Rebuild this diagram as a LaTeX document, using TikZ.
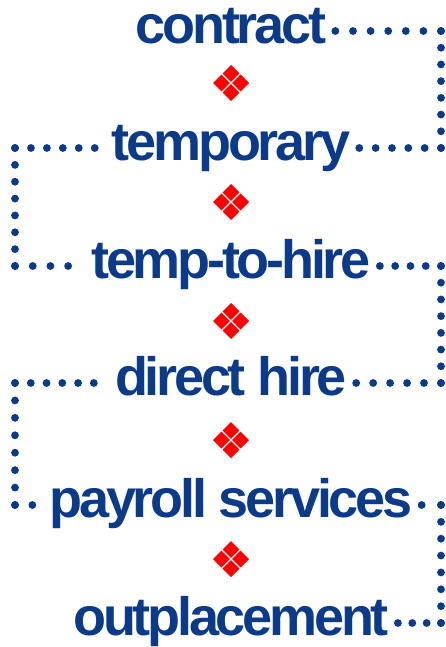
\documentclass[tikz,border=0pt]{standalone}
\usepackage{fontspec}
\usetikzlibrary{calc}
\newfontfamily\labelfont[LetterSpace=-6]{Liberation Sans}
\definecolor{tblue}{HTML}{0B3A8A}
\definecolor{ored}{HTML}{FF0000}
\newcommand\dotseg[2]{%
  \path let \p1=(#1), \p2=(#2) in \pgfextra{%
    \pgfmathsetmacro\segsp{veclen(\x1-\x2,\y1-\y2)/max(1,round(veclen(\x1-\x2,\y1-\y2)/16.3))}%
    \global\let\segsp\segsp};
  \draw[dotted line=\segsp pt] (#1) -- (#2);}
\begin{document}
\begin{tikzpicture}[x=1pt,y=-1pt,
  lbl/.style={font=\labelfont\bfseries\fontsize{54}{54}\selectfont, text=tblue,
    inner xsep=9pt, inner ysep=0pt, text height=25pt, text depth=0pt},
  dotted line/.style={draw=tblue, line width=7.8pt, line cap=round, dash pattern=on 0pt off #1},
  dotted line/.default=16.3pt,
  orn/.style={minimum size=38pt, inner sep=0pt}]
\useasboundingbox (0,0) rectangle (446,647);
\node[lbl] (t1) at (231,31) {contract};
\node[lbl] (t2) at (231,148) {temporary};
\node[lbl] (t3) at (231,266) {temp-to-hire};
\node[lbl] (t4) at (231,383) {direct hire};
\node[lbl] (t5) at (231,505) {payroll services};
\node[lbl] (t6) at (231,623) {outplacement};
\node[orn] (d1) at (231,83) {};
\node[orn] (d2) at (231,202) {};
\node[orn] (d3) at (231,321) {};
\node[orn] (d4) at (231,440) {};
\node[orn] (d5) at (231,559) {};
\foreach \d in {d1,d2,d3,d4,d5}{
  \fill[ored] (\d.center) ++(1.2,0) -- ++(8.4,8.4) -- ++(8.4,-8.4) -- ++(-8.4,-8.4) -- cycle;
  \fill[ored] (\d.center) ++(-1.2,0) -- ++(-8.4,8.4) -- ++(-8.4,-8.4) -- ++(8.4,-8.4) -- cycle;
  \fill[ored] (\d.center) ++(0,1.2) -- ++(8.4,8.4) -- ++(-8.4,8.4) -- ++(-8.4,-8.4) -- cycle;
  \fill[ored] (\d.center) ++(0,-1.2) -- ++(8.4,-8.4) -- ++(-8.4,-8.4) -- ++(-8.4,8.4) -- cycle;
}
\coordinate (r1) at (441,31);
\coordinate (l1) at (15,148);
\coordinate (r2) at (441,266);
\coordinate (l2) at (15,383);
\coordinate (r3) at (441,505);
\coordinate (r1b) at (r1 |- t2.east);
\coordinate (l1b) at (l1 |- t3.west);
\coordinate (r2b) at (r2 |- t4.east);
\coordinate (l2b) at (l2 |- t5.west);
\coordinate (r3b) at (r3 |- t6.east);
\coordinate (w2) at ([xshift=-8pt]t2.west);
\coordinate (w3) at ([xshift=-14pt]t3.west);
\coordinate (w4) at ([xshift=-12pt]t4.west);
\coordinate (w5) at ([xshift=-8pt]t5.west);
\dotseg{r1}{t1.east}
\dotseg{r1}{r1b}
\dotseg{r1b}{t2.east}
\dotseg{l1}{w2}
\dotseg{l1}{l1b}
\dotseg{l1b}{w3}
\dotseg{r2}{t3.east}
\dotseg{r2}{r2b}
\dotseg{r2b}{t4.east}
\dotseg{l2}{w4}
\dotseg{l2}{l2b}
\dotseg{l2b}{w5}
\dotseg{r3}{t5.east}
\dotseg{r3}{r3b}
\dotseg{r3b}{t6.east}
\end{tikzpicture}
\end{document}
